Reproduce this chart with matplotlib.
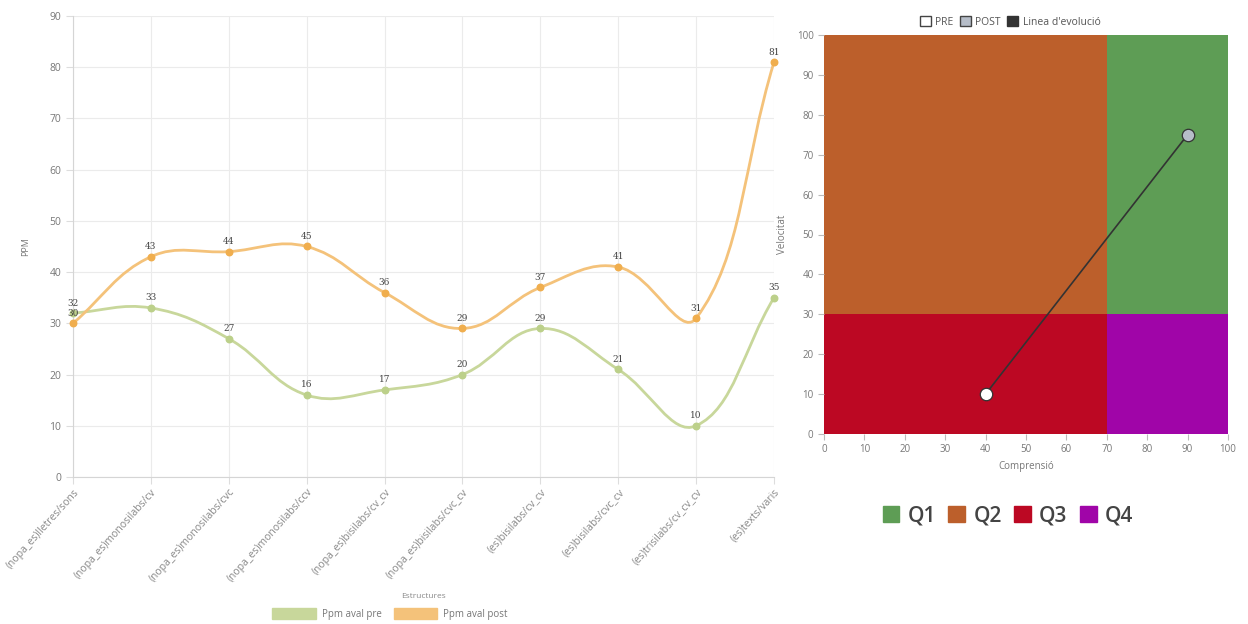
import matplotlib
matplotlib.use("Agg")
import matplotlib.pyplot as plt
import numpy as np
from matplotlib.path import Path
from matplotlib.patches import PathPatch, Patch, Rectangle

categories = ["(nopa_es)lletres/sons", "(nopa_es)monosilabs/cv", "(nopa_es)monosilabs/cvc",
              "(nopa_es)monosilabs/ccv", "(nopa_es)bisilabs/cv_cv", "(nopa_es)bisilabs/cvc_cv",
              "(es)bisilabs/cv_cv", "(es)bisilabs/cvc_cv", "(es)trisilabs/cv_cv_cv", "(es)texts/varis"]
ppm_pre = [32, 33, 27, 16, 17, 20, 29, 21, 10, 35]
ppm_post = [30, 43, 44, 45, 36, 29, 37, 41, 31, 81]

pre_point = (40, 10)
post_point = (90, 75)
comp_split = 70
vel_split = 30
quadrants = ["Q1", "Q2", "Q3", "Q4"]
quad_colors = ["#5E9D55", "#BC5F2B", "#BC0823", "#A005A8"]

plt.rcParams['font.family'] = ['Open Sans', 'DejaVu Sans']

fig = plt.figure(figsize=(12.48, 6.24), dpi=100)
ax = fig.add_axes([73/1248, 1-477/624, (774-73)/1248, (477-16)/624])

x = np.arange(len(categories))
ax.set_xlim(0, len(categories)-1)
ax.set_ylim(0, 90)
ax.set_yticks(range(0, 91, 10))
ax.set_xticks(x)
ax.set_xticklabels(categories, rotation=48, ha='right', rotation_mode='anchor',
                   fontsize=7.5, color='#888888')
ax.tick_params(axis='y', labelsize=7.5, labelcolor='#777777', length=5, color='#dddddd')
ax.tick_params(axis='x', length=5, color='#dddddd', pad=2)
ax.grid(True, color='#ebebeb', linewidth=0.8)
ax.set_axisbelow(True)
for s in ['top', 'right']:
    ax.spines[s].set_visible(False)
for s in ['left', 'bottom']:
    ax.spines[s].set_color('#d5d5d5')
ax.set_ylabel("PPM", fontsize=6.5, color='#777777', labelpad=14)
ax.set_xlabel("Estructures", fontsize=6, color='#888888', labelpad=6)


def spline(ax, xs, ys, color, lw):
    pts = ax.transData.transform(np.column_stack([xs, ys]))
    n = len(pts)
    t = 0.4
    prev_c = [None]*n
    next_c = [None]*n
    for i in range(n):
        p1 = pts[i]
        p0 = pts[i-1] if i > 0 else p1
        p2 = pts[i+1] if i < n-1 else p1
        d01 = np.hypot(*(p1-p0))
        d12 = np.hypot(*(p2-p1))
        tot = d01 + d12
        s01 = d01/tot if tot else 0
        s12 = d12/tot if tot else 0
        prev_c[i] = p1 - t*s01*(p2-p0)
        next_c[i] = p1 + t*s12*(p2-p0)
    verts = [pts[0]]
    codes = [Path.MOVETO]
    for i in range(n-1):
        verts += [next_c[i], prev_c[i+1], pts[i+1]]
        codes += [Path.CURVE4]*3
    verts = ax.transData.inverted().transform(np.array(verts))
    patch = PathPatch(Path(verts, codes), facecolor='none', edgecolor=color, lw=lw,
                      zorder=2, clip_on=False)
    ax.add_patch(patch)

pre_line = '#C8D79B'
pre_mark = '#BCD08A'
post_line = '#F4C27A'
post_mark = '#F0AE4E'
spline(ax, x, ppm_pre, pre_line, 2.0)
spline(ax, x, ppm_post, post_line, 2.0)
ax.scatter(x, ppm_pre, s=22, color=pre_mark, zorder=3, clip_on=False)
ax.scatter(x, ppm_post, s=22, color=post_mark, zorder=3, clip_on=False)
for xi, v in zip(x, ppm_pre):
    ax.annotate(str(v), (xi, v), xytext=(0, 4), textcoords='offset points', ha='center',
                va='bottom', fontsize=6.5, family='DejaVu Serif', color='#444444', zorder=4)
for xi, v in zip(x, ppm_post):
    ax.annotate(str(v), (xi, v), xytext=(0, 4), textcoords='offset points', ha='center',
                va='bottom', fontsize=6.5, family='DejaVu Serif', color='#444444', zorder=4)

handles = [Patch(facecolor=pre_line, edgecolor=pre_line), Patch(facecolor=post_line, edgecolor=post_line)]
fig.legend(handles, ["Ppm aval pre", "Ppm aval post"], loc='center', bbox_to_anchor=(390/1248, 1-614/624),
           ncol=2, frameon=False, fontsize=7, handlelength=4.5, handleheight=1.3, columnspacing=1.2,
           handletextpad=0.6, labelcolor='#777777')

# Right chart
ax2 = fig.add_axes([824/1248, 1-434/624, (1228-824)/1248, (434-35)/624])
ax2.set_xlim(0, 100)
ax2.set_ylim(0, 100)
ax2.add_patch(Rectangle((comp_split, vel_split), 100-comp_split, 100-vel_split, color=quad_colors[0], lw=0))
ax2.add_patch(Rectangle((0, vel_split), comp_split, 100-vel_split, color=quad_colors[1], lw=0))
ax2.add_patch(Rectangle((0, 0), comp_split, vel_split, color=quad_colors[2], lw=0))
ax2.add_patch(Rectangle((comp_split, 0), 100-comp_split, vel_split, color=quad_colors[3], lw=0))
ax2.plot([pre_point[0], post_point[0]], [pre_point[1], post_point[1]], color='#333333', lw=1.2, zorder=3)
ax2.scatter([pre_point[0]], [pre_point[1]], s=80, facecolor='white', edgecolor='#333333', lw=0.9, zorder=4)
ax2.scatter([post_point[0]], [post_point[1]], s=80, facecolor='#B6BDC8', edgecolor='#333333', lw=0.9, zorder=4)
ax2.set_xticks(range(0, 101, 10))
ax2.set_yticks(range(0, 101, 10))
ax2.tick_params(labelsize=7, labelcolor='#777777', length=4, color='#bbbbbb')
for s in ax2.spines.values():
    s.set_visible(False)
ax2.set_xlabel("Comprensió", fontsize=7, color='#777777', labelpad=4)
ax2.set_ylabel("Velocitat", fontsize=7, color='#777777', labelpad=6)

h2 = [Patch(facecolor='white', edgecolor='#444444'), Patch(facecolor='#B6BDC8', edgecolor='#444444'),
      Patch(facecolor='#333333', edgecolor='#333333')]
fig.legend(h2, ["PRE", "POST", "Linea d'evolució"], loc='center', bbox_to_anchor=(1010/1248, 1-22/624),
           ncol=3, frameon=False, fontsize=7.5, handlelength=1.1, handleheight=1.1, columnspacing=0.6,
           handletextpad=0.4, labelcolor='#555555')

h3 = [Patch(facecolor=c, edgecolor=c) for c in quad_colors]
fig.legend(h3, quadrants, loc='center', bbox_to_anchor=(1008/1248, 1-516/624), ncol=4, frameon=False,
           prop={'size': 15, 'weight': 'semibold'}, handlelength=0.8, handleheight=0.8, columnspacing=0.6,
           handletextpad=0.4, labelcolor='#444444')

fig.savefig("out.png", dpi=100)
